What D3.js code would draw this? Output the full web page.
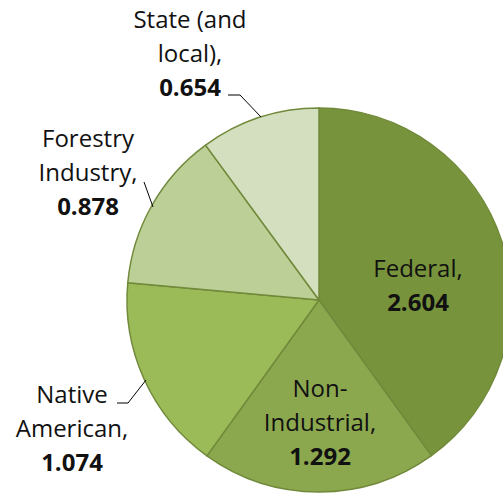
<!DOCTYPE html>
<html>
<head>
<meta charset="utf-8">
<script src="https://cdn.jsdelivr.net/npm/d3@7"></script>
<style>
  body { margin: 0; background: #fff; }
  text { font-family: "Open Sans", "Lato", sans-serif; fill: #111; }
</style>
</head>
<body>
<div class="canvas"></div>
<script>
// data
const owners = ['Federal', 'Non-Industrial', 'Native American', 'Forestry Industry', 'State (and local)'];
const acres = [2.604, 1.292, 1.074, 0.878, 0.654];
const colours = ['#77933c', '#8ca84f', '#9bbb59', '#bbcf97', '#d3dfbe'];
// how each label breaks into lines
const labelLines = [['Federal,'], ['Non-', 'Industrial,'], ['Native', 'American,'], ['Forestry', 'Industry,'], ['State (and', 'local),']];

const dims = {width: 503, height: 497, radius: 192};
const cent = {x: 319, y: 300};

// label anchors (x centre, first baseline) and leader lines
const labelPos = [
  {x: 418, y: 277},
  {x: 320, y: 397},
  {x: 72, y: 403},
  {x: 88, y: 147},
  {x: 190, y: 28}
];
const leaders = [
  null,
  null,
  [[117, 403], [128, 403], [146, 380]],
  [[144, 182], [153, 207]],
  [[228, 95], [240, 95], [261, 117]]
];

const svg = d3.select('.canvas')
  .append('svg')
    .attr('width', dims.width)
    .attr('height', dims.height);

const graph = svg.append('g')
  .attr('transform', `translate(${cent.x}, ${cent.y})`);

const pie = d3.pie()
  .sort(null)
  .value(d => d);

const arcPath = d3.arc()
  .outerRadius(dims.radius)
  .innerRadius(0);

graph.selectAll('path')
  .data(pie(acres))
  .enter()
  .append('path')
    .attr('d', arcPath)
    .attr('fill', (d, i) => colours[i])
    .attr('stroke', '#71893a')
    .attr('stroke-width', 1.5)
    .attr('stroke-linejoin', 'round');

const line = d3.line();
svg.selectAll('path.leader')
  .data(leaders.filter(d => d))
  .enter()
  .append('path')
    .attr('class', 'leader')
    .attr('d', line)
    .attr('fill', 'none')
    .attr('stroke', '#000')
    .attr('stroke-width', 1);

const lh = 34;
const labels = svg.selectAll('text.lab')
  .data(owners)
  .enter()
  .append('text')
    .attr('class', 'lab')
    .attr('text-anchor', 'middle')
    .attr('font-size', 24);

labels.each(function(d, i) {
  const t = d3.select(this);
  const p = labelPos[i];
  labelLines[i].forEach((s, j) => {
    t.append('tspan').attr('x', p.x).attr('y', p.y + j * lh).text(s);
  });
  t.append('tspan')
    .attr('x', p.x)
    .attr('y', p.y + labelLines[i].length * lh)
    .attr('font-weight', 'bold')
    .text(d3.format('.3f')(acres[i]));
});
</script>
</body>
</html>
